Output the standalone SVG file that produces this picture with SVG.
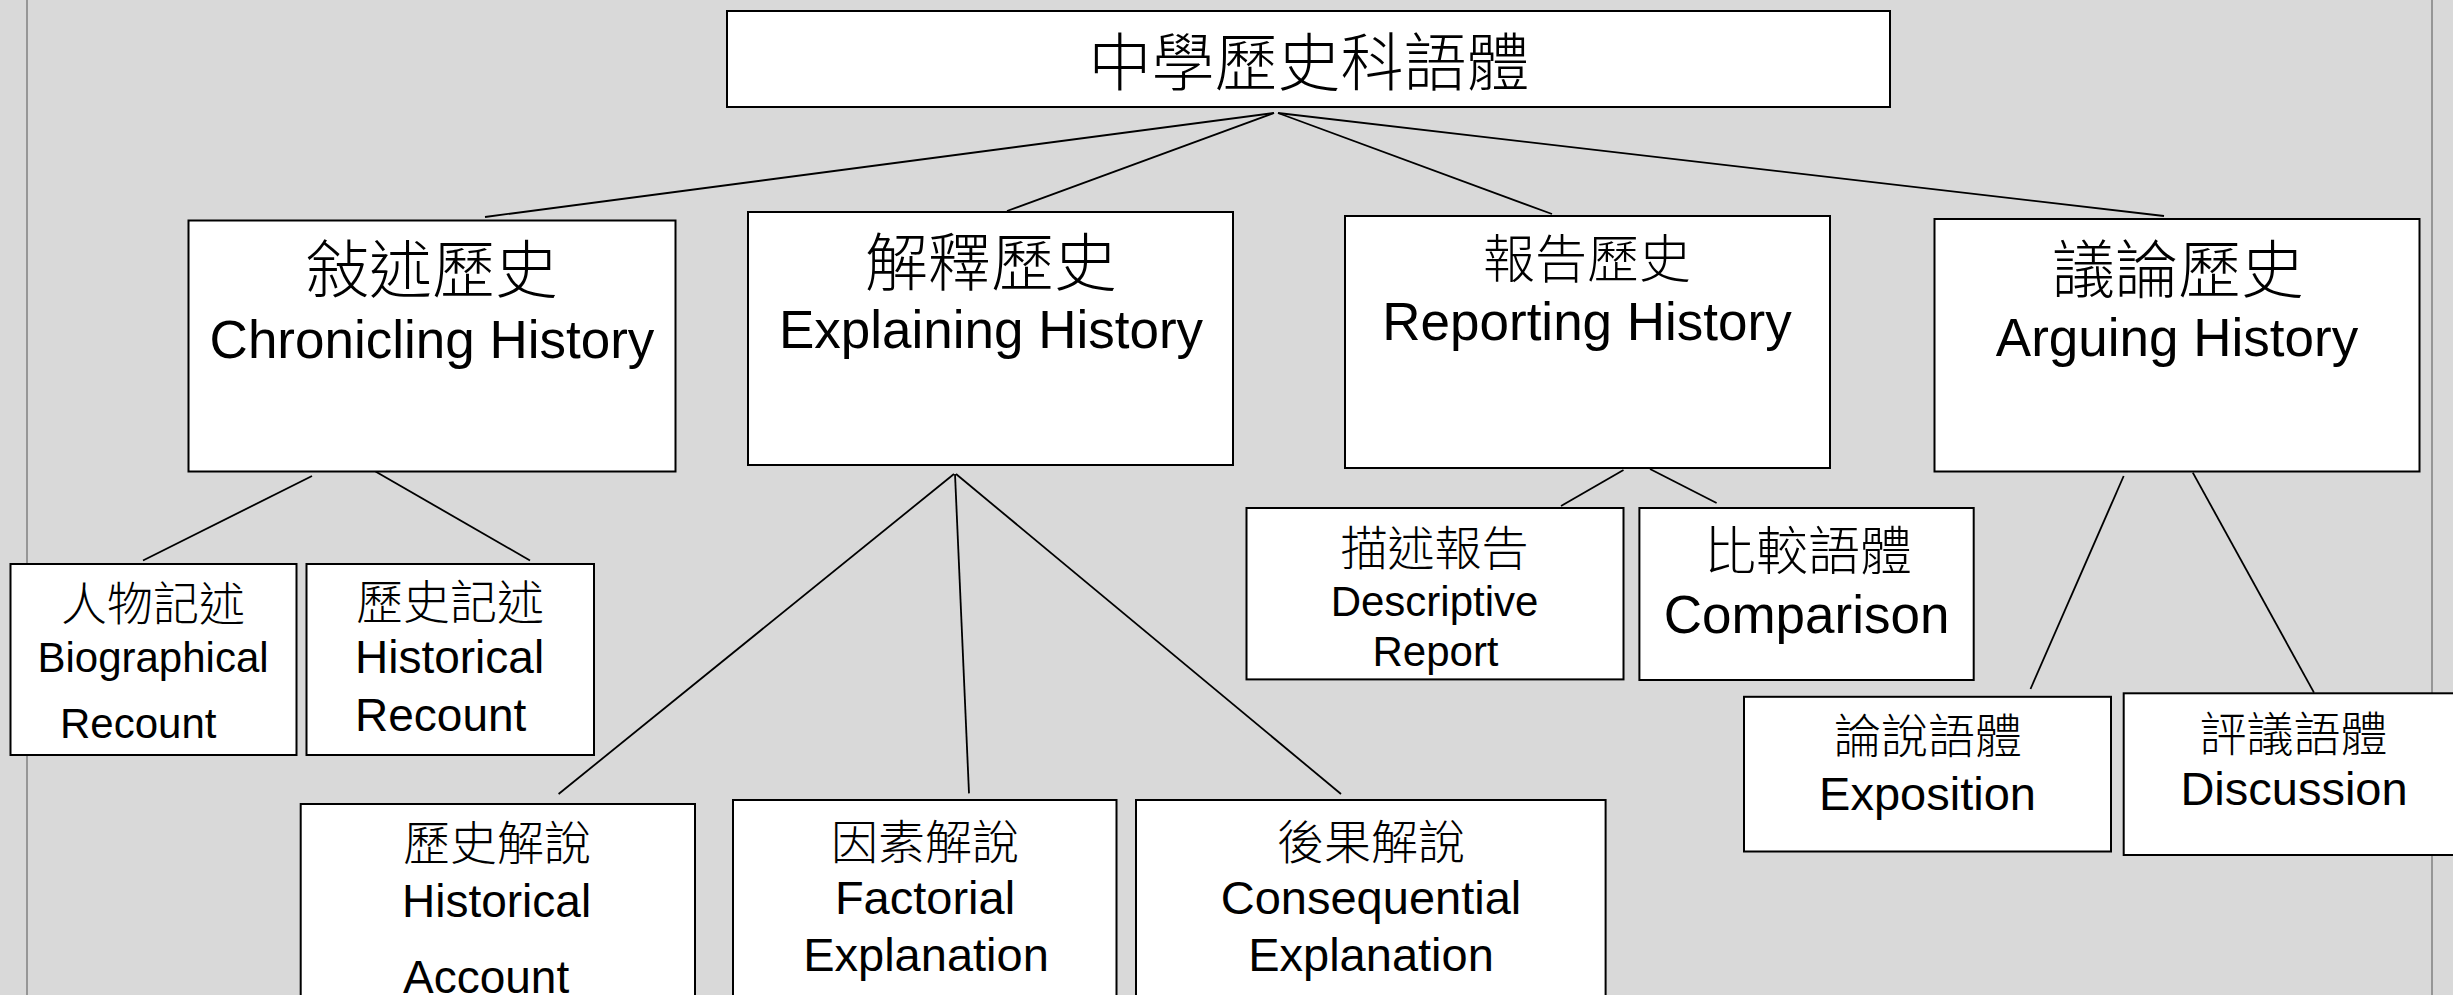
<svg xmlns="http://www.w3.org/2000/svg" width="2453" height="995" viewBox="0 0 2453 995">
<style>
.bg{fill:#d9d9d9}
.frame{stroke:#7f7f7f;stroke-width:1.5}
.box{fill:#ffffff;stroke:#000000;stroke-width:2}
.conn line{stroke:#000000;stroke-width:1.8}
.zh{font-family:"Noto Sans CJK TC","Noto Sans CJK SC",sans-serif;font-weight:300;fill:#000;text-anchor:middle}
.en{font-family:"Liberation Sans",Arial,sans-serif;fill:#000;text-anchor:middle}
.st{text-anchor:start}
</style>
<rect class="bg" x="0" y="0" width="2453" height="995"/>
<line class="frame" x1="27" y1="0" x2="27" y2="995"/>
<line class="frame" x1="2432" y1="0" x2="2432" y2="995"/>

<g id="connectors" class="conn">
<line x1="1274" y1="113" x2="485" y2="217"/>
<line x1="1274" y1="113" x2="1007" y2="211"/>
<line x1="1278" y1="113" x2="1552" y2="214"/>
<line x1="1278" y1="113" x2="2164" y2="216"/>
<line x1="312" y1="476" x2="143" y2="560.5"/>
<line x1="375.5" y1="471.5" x2="530" y2="560.5"/>
<line x1="954" y1="474" x2="558.6" y2="794"/>
<line x1="955" y1="474" x2="969" y2="793.4"/>
<line x1="956" y1="474" x2="1341" y2="794"/>
<line x1="1623.5" y1="470" x2="1561" y2="506"/>
<line x1="1650" y1="469" x2="1716.6" y2="503"/>
<line x1="2123.7" y1="476" x2="2030.5" y2="689"/>
<line x1="2192.8" y1="472.6" x2="2314" y2="692.6"/>
</g>

<g id="root">
<rect class="box" x="727" y="11" width="1163" height="96"/>
<text class="zh" x="1309" y="85" font-size="63">中學歷史科語體</text>
</g>

<g id="chronicling">
<rect class="box" x="188.5" y="220.5" width="487" height="251"/>
<text class="zh" x="432" y="292" font-size="63">敍述歷史</text>
<text class="en" x="432" y="358" font-size="53">Chronicling History</text>
</g>

<g id="explaining">
<rect class="box" x="748" y="212" width="485" height="253"/>
<text class="zh" x="991" y="285" font-size="63">解釋歷史</text>
<text class="en" x="991" y="348" font-size="53">Explaining History</text>
</g>

<g id="reporting">
<rect class="box" x="1345" y="216" width="485" height="252"/>
<text class="zh" x="1587" y="278" font-size="52">報告歷史</text>
<text class="en" x="1587" y="340" font-size="53">Reporting History</text>
</g>

<g id="arguing">
<rect class="box" x="1934.5" y="219" width="485" height="252.5"/>
<text class="zh" x="2178" y="292" font-size="63">議論歷史</text>
<text class="en" x="2177" y="356" font-size="53">Arguing History</text>
</g>

<g id="biographical">
<rect class="box" x="10.5" y="564" width="286" height="191"/>
<text class="zh" x="153" y="620" font-size="46">人物記述</text>
<text class="en" x="153" y="672" font-size="42">Biographical</text>
<text class="en st" x="60" y="738" font-size="42">Recount</text>
</g>

<g id="historical-recount">
<rect class="box" x="306.5" y="564" width="287.5" height="191"/>
<text class="zh" x="450" y="619" font-size="47">歷史記述</text>
<text class="en st" x="355" y="673" font-size="46">Historical</text>
<text class="en st" x="355" y="731" font-size="46">Recount</text>
</g>

<g id="historical-account">
<rect class="box" x="300.7" y="804" width="394.3" height="200"/>
<text class="zh" x="497" y="860" font-size="47">歷史解說</text>
<text class="en st" x="402" y="917" font-size="46">Historical</text>
<text class="en st" x="403" y="993" font-size="46">Account</text>
</g>

<g id="factorial">
<rect class="box" x="733" y="800" width="383.5" height="204"/>
<text class="zh" x="925" y="859" font-size="47">因素解說</text>
<text class="en" x="925" y="914" font-size="47">Factorial</text>
<text class="en" x="926" y="971" font-size="47">Explanation</text>
</g>

<g id="consequential">
<rect class="box" x="1136" y="800" width="469.6" height="204"/>
<text class="zh" x="1371" y="859" font-size="47">後果解說</text>
<text class="en" x="1371" y="914" font-size="47">Consequential</text>
<text class="en" x="1371" y="971" font-size="47">Explanation</text>
</g>

<g id="descriptive">
<rect class="box" x="1246.5" y="508" width="377" height="171.4"/>
<text class="zh" x="1434.5" y="565" font-size="47">描述報告</text>
<text class="en" x="1434.5" y="616" font-size="42">Descriptive</text>
<text class="en" x="1435.5" y="665.5" font-size="42">Report</text>
</g>

<g id="comparison">
<rect class="box" x="1639.4" y="508" width="334.3" height="172"/>
<text class="zh" x="1808" y="570" font-size="52">比較語體</text>
<text class="en" x="1806.5" y="632.5" font-size="53">Comparison</text>
</g>

<g id="exposition">
<rect class="box" x="1744" y="696.8" width="367" height="154.7"/>
<text class="zh" x="1928" y="752.5" font-size="47">論說語體</text>
<text class="en" x="1927.5" y="809.5" font-size="47">Exposition</text>
</g>

<g id="discussion">
<rect class="box" x="2123.7" y="693.3" width="340" height="161.7"/>
<text class="zh" x="2293.5" y="750.5" font-size="47">評議語體</text>
<text class="en" x="2294" y="805" font-size="47">Discussion</text>
</g>
</svg>
